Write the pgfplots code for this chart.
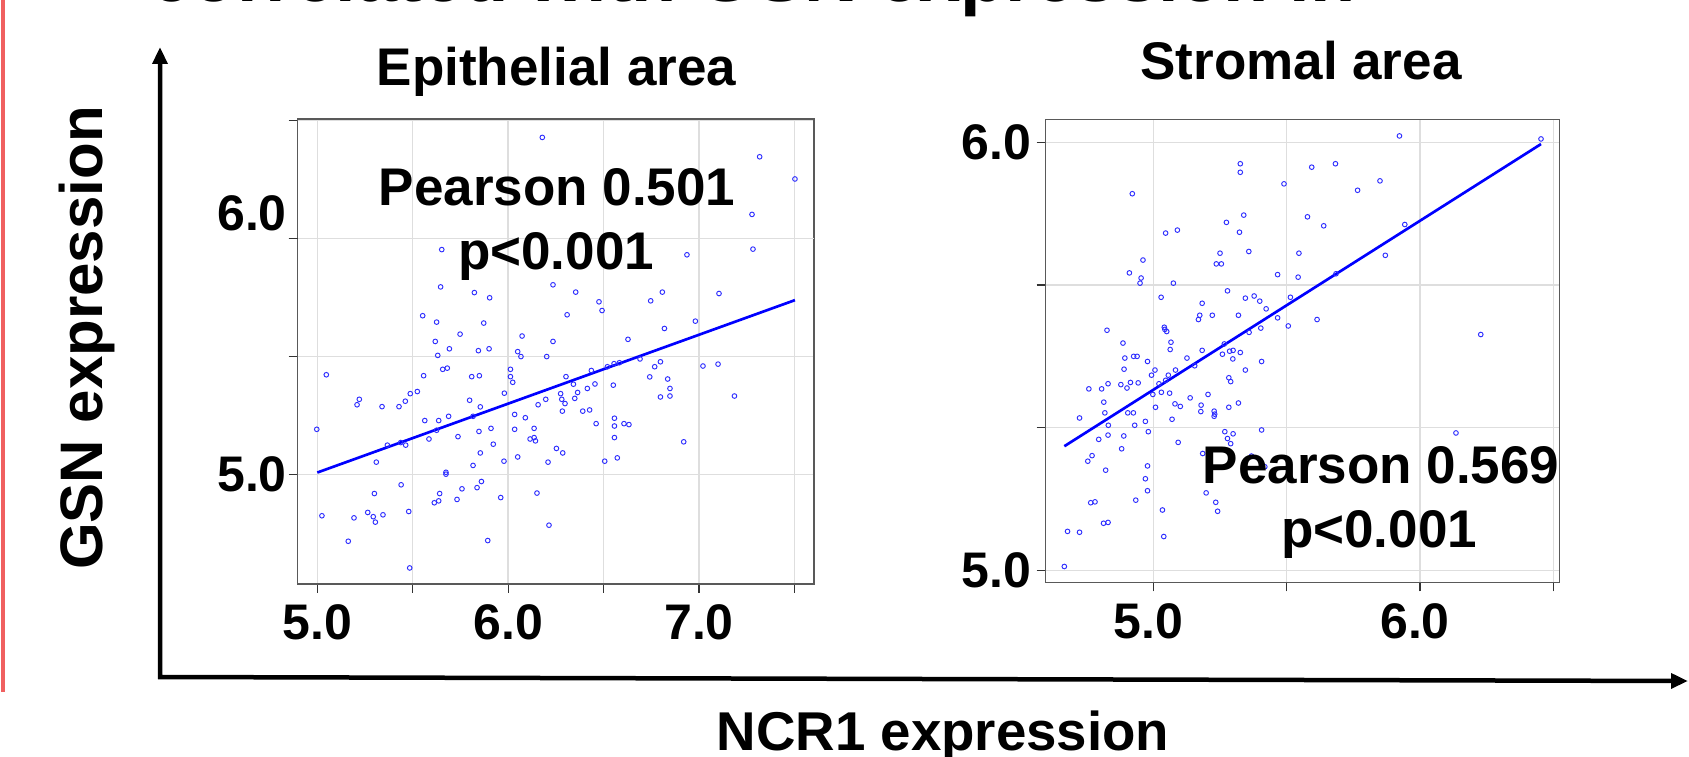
\documentclass[border=0pt]{standalone}
\usepackage{fontspec}
\setmainfont{Liberation Sans}
\usepackage{pgfplots}
\usepackage{pgfplotstable}
\pgfplotsset{compat=1.18}
\usetikzlibrary{arrows.meta}
\definecolor{ptblue}{RGB}{45,45,255}
\definecolor{redbar}{RGB}{240,96,96}

\pgfplotstableread{
x y
6.179 6.427
7.318 6.345
7.503 6.251
7.278 6.101
7.283 5.954
6.937 5.930
5.652 5.952
5.646 5.794
5.823 5.770
5.903 5.748
6.235 5.803
6.354 5.772
6.476 5.731
6.492 5.694
6.747 5.735
6.808 5.772
7.105 5.766
5.552 5.672
5.625 5.645
5.872 5.641
6.309 5.676
6.981 5.649
6.819 5.618
5.618 5.563
5.748 5.594
6.073 5.586
6.235 5.563
6.628 5.572
5.692 5.532
5.844 5.524
5.900 5.532
6.050 5.520
5.631 5.504
6.067 5.499
6.202 5.499
5.047 5.422
5.557 5.418
5.657 5.445
5.681 5.450
5.809 5.414
5.849 5.418
6.012 5.445
6.012 5.414
6.024 5.390
6.691 5.489
6.768 5.456
6.798 5.477
7.021 5.459
7.100 5.467
6.742 5.413
6.836 5.404
6.848 5.364
6.848 5.332
6.798 5.328
7.186 5.332
6.436 5.440
6.520 5.456
6.555 5.469
6.583 5.473
6.303 5.414
6.342 5.382
6.455 5.383
6.551 5.378
6.415 5.364
6.364 5.347
6.349 5.322
6.275 5.342
6.281 5.318
6.298 5.300
6.197 5.318
6.157 5.295
6.284 5.268
6.391 5.268
6.427 5.273
6.461 5.215
6.557 5.238
6.557 5.205
6.607 5.215
6.633 5.211
6.557 5.156
6.920 5.138
6.506 5.056
6.572 5.070
5.487 5.342
5.524 5.351
5.461 5.310
5.428 5.287
5.339 5.287
5.208 5.295
5.220 5.318
4.997 5.191
5.367 5.124
5.437 5.135
5.463 5.124
5.309 5.052
5.563 5.228
5.636 5.228
5.688 5.246
5.625 5.187
5.585 5.150
5.798 5.314
5.854 5.286
5.816 5.246
5.980 5.344
6.034 5.254
6.090 5.240
6.034 5.191
6.136 5.195
6.115 5.150
6.136 5.156
6.143 5.142
5.847 5.182
5.910 5.195
5.737 5.160
5.922 5.128
5.854 5.091
5.816 5.038
5.978 5.056
6.050 5.074
6.209 5.052
6.253 5.110
6.286 5.091
5.674 5.009
5.674 5.001
5.439 4.956
5.299 4.919
5.024 4.825
5.192 4.816
5.264 4.839
5.293 4.821
5.304 4.798
5.344 4.829
5.479 4.843
5.162 4.717
5.484 4.604
5.641 4.919
5.636 4.888
5.613 4.880
5.732 4.894
5.758 4.939
5.837 4.944
5.860 4.970
5.961 4.902
5.893 4.720
6.151 4.921
6.214 4.785
}\epithelial

\pgfplotstableread{
x y
5.923 6.015
6.454 6.008
5.326 5.950
5.326 5.930
5.594 5.942
5.683 5.950
5.490 5.903
5.850 5.910
5.766 5.888
4.921 5.880
5.339 5.830
5.578 5.826
5.274 5.813
5.639 5.805
5.943 5.808
5.090 5.795
5.046 5.788
5.323 5.790
5.358 5.745
5.250 5.741
5.546 5.741
5.870 5.736
4.961 5.725
5.236 5.716
5.255 5.716
4.910 5.695
4.954 5.683
4.950 5.671
5.466 5.691
5.543 5.685
5.685 5.693
5.075 5.671
5.278 5.653
5.029 5.638
5.345 5.636
5.378 5.641
5.399 5.629
5.514 5.638
5.183 5.624
5.423 5.611
5.174 5.596
5.169 5.586
5.221 5.596
5.319 5.596
5.466 5.590
5.614 5.586
4.826 5.561
5.041 5.568
5.043 5.563
5.050 5.558
5.359 5.556
5.403 5.566
5.506 5.571
6.228 5.551
4.886 5.531
5.066 5.533
5.063 5.516
5.183 5.514
5.266 5.529
5.286 5.512
5.299 5.514
5.326 5.509
4.893 5.496
4.926 5.500
4.939 5.500
5.126 5.496
5.259 5.505
4.978 5.488
4.890 5.470
4.993 5.456
5.006 5.468
5.056 5.456
5.083 5.468
5.155 5.478
5.298 5.494
5.406 5.488
5.345 5.468
5.283 5.450
5.290 5.441
4.758 5.424
4.806 5.424
4.830 5.436
4.878 5.434
4.901 5.426
4.914 5.439
4.943 5.438
5.021 5.436
5.046 5.444
4.998 5.411
5.030 5.416
5.061 5.414
5.138 5.403
5.205 5.411
4.814 5.393
4.818 5.368
4.723 5.356
4.904 5.368
4.925 5.368
5.008 5.381
5.081 5.389
5.101 5.383
5.179 5.386
5.178 5.371
5.228 5.372
5.230 5.365
5.228 5.360
5.283 5.381
5.319 5.391
5.070 5.353
4.970 5.348
4.930 5.339
4.831 5.339
4.795 5.306
4.830 5.316
4.889 5.314
4.981 5.324
4.881 5.284
5.093 5.299
5.268 5.324
5.299 5.319
5.278 5.308
5.290 5.296
5.406 5.328
4.754 5.255
4.770 5.268
4.821 5.234
4.978 5.244
4.970 5.214
4.978 5.186
5.185 5.273
5.368 5.267
5.418 5.242
5.198 5.181
5.234 5.159
5.241 5.138
4.934 5.164
5.034 5.141
5.039 5.079
4.765 5.158
4.781 5.160
4.813 5.110
4.830 5.112
4.678 5.091
4.723 5.089
4.666 5.009
6.135 5.321
}\stromal

\pgfplotsset{
  panel/.style={
    scale only axis,
    axis line style={draw=black!65, line width=0.45pt},
    grid=major,
    major grid style={draw=black!13, line width=0.4pt},
    tick align=outside,
    major tick length=2.7pt,
    tick style={draw=black!80, line width=0.35pt},
    xtick pos=left, ytick pos=left,
    ticklabel style={font=\bfseries\fontsize{15}{18}\selectfont, text=black},
    clip=true,
  },
  pts/.style={only marks, mark=o, mark size=0.7pt,
    mark options={draw=ptblue, line width=0.28pt}},
  fit/.style={draw=blue, line width=0.8pt, no marks},
}

\begin{document}
\begin{tikzpicture}
\useasboundingbox (0,0) rectangle (506.7pt,-227.1pt);
\clip (0,0) rectangle (506.7pt,-227.1pt);

% Left panel: Epithelial area
\begin{axis}[panel,
  at={(89.25pt,-175.2pt)}, anchor=south west,
  width=154.9pt, height=139.5pt,
  xmin=4.896, xmax=7.602, ymin=4.536, ymax=6.505,
  xtick={5,5.5,6,6.5,7,7.5},
  xticklabels={\textbf{5.0},,\textbf{6.0},,\textbf{7.0},},
  ytick={5,5.5,6,6.5},
  yticklabels={\textbf{5.0},,,},
  extra y ticks={6},
  extra y tick labels={\textbf{6.0}},
  extra y tick style={yticklabel style={yshift=7.5pt}},
  yticklabel style={xshift=3pt},
]
\addplot[pts] table[x=x,y=y] {\epithelial};
\addplot[fit] coordinates {(5.0,5.008) (7.503,5.738)};
\end{axis}

% Right panel: Stromal area
\begin{axis}[panel,
  at={(313.7pt,-174.7pt)}, anchor=south west,
  width=154.2pt, height=138.8pt,
  xmin=4.596, xmax=6.524, ymin=4.972, ymax=6.053,
  xtick={5,5.5,6,6.5},
  xticklabels={\textbf{5.0},,\textbf{6.0},},
  ytick={5,5.33333,5.66667,6},
  yticklabels={\textbf{5.0},,,\textbf{6.0}},
  yticklabel style={xshift=1.8pt},
  xticklabel style={xshift=-1.5pt},
]
\addplot[pts] table[x=x,y=y] {\stromal};
\addplot[fit] coordinates {(4.666,5.290) (6.454,5.996)};
\end{axis}

\begin{scope}[x=0.3pt,y=-0.3pt]
  % red bar on the left edge
  \draw[redbar, line width=1.2pt] (3,0) -- (3,692);
  % cut-off slide title
  \node[anchor=base west, inner sep=0pt, font=\bfseries\fontsize{22.2}{26}\selectfont] at (150,2) {correlated with GSN expression in};
  % big axes arrows
  \draw[line width=1.35pt, {Triangle[length=5.1pt,width=4.4pt]}-{Triangle[length=5.1pt,width=4.4pt]}]
     (160,47) -- (160,677) -- (1688,681);
  % panel titles
  \node[anchor=base, inner sep=0pt, font=\bfseries\fontsize{15.9}{19}\selectfont] at (556.5,86) {Epithelial area};
  \node[anchor=base, inner sep=0pt, font=\bfseries\fontsize{15.9}{19}\selectfont] at (1301,80) {Stromal area};
  % annotations
  \node[anchor=base, inner sep=0pt, font=\bfseries\fontsize{15.9}{19}\selectfont] at (557,206) {Pearson 0.501};
  \node[anchor=base, inner sep=0pt, font=\bfseries\fontsize{15.9}{19}\selectfont] at (556,270) {p<0.001};
  \node[anchor=base, inner sep=0pt, font=\bfseries\fontsize{15.9}{19}\selectfont] at (1381,483) {Pearson 0.569};
  \node[anchor=base, inner sep=0pt, font=\bfseries\fontsize{15.9}{19}\selectfont] at (1379,547) {p<0.001};
  % outer axis titles
  \node[anchor=base, inner sep=0pt, rotate=90, font=\bfseries\fontsize{18}{22}\selectfont] at (102,338) {GSN expression};
  \node[anchor=base, inner sep=0pt, font=\bfseries\fontsize{16.4}{20}\selectfont] at (943,750) {NCR1 expression};
\end{scope}
\end{tikzpicture}
\end{document}
